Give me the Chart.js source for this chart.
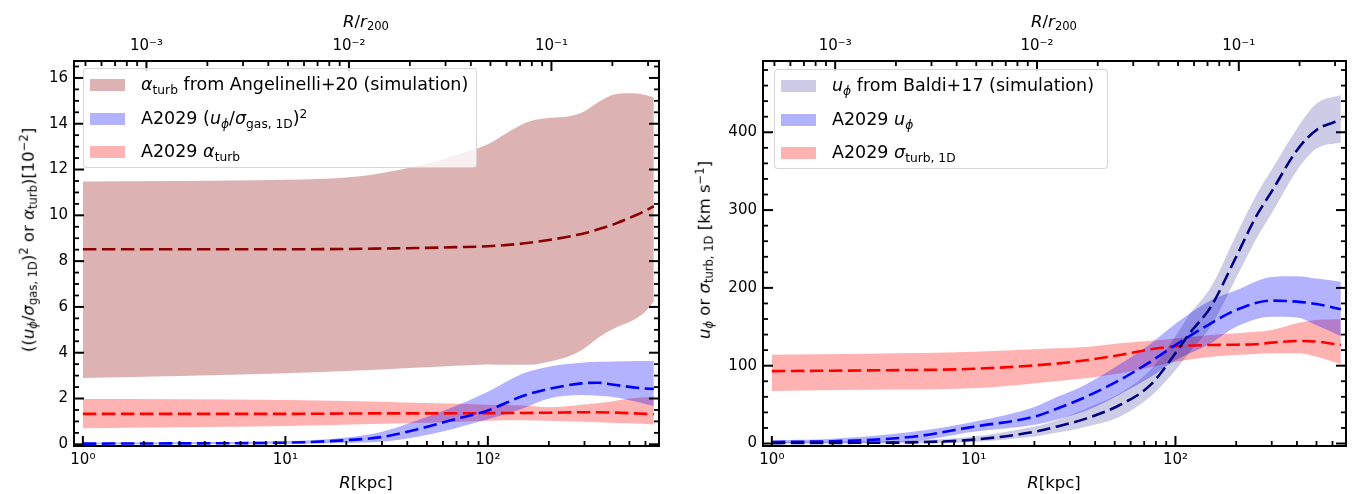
<!DOCTYPE html>
<html><head><meta charset="utf-8">
<script src="https://cdn.jsdelivr.net/npm/chart.js@4/dist/chart.umd.min.js"></script>
<style>
html,body{margin:0;padding:0;background:#fff;}
#wrap{position:relative;width:1355px;height:494px;overflow:hidden;font-family:"DejaVu Sans",sans-serif;color:#000;}
.pane{position:absolute;top:0;height:494px;}
.t{position:absolute;white-space:nowrap;font-size:16.5px;line-height:1;transform:translate(-50%,-50%);}
.rot{transform:translate(-50%,-50%) rotate(-90deg);}
i{font-style:italic;}
sub{font-size:70%;vertical-align:-0.28em;line-height:0;}
sup{font-size:70%;vertical-align:0.55em;line-height:0;}
.legend{position:absolute;background:rgba(255,255,255,0.8);border:1px solid rgba(204,204,204,0.8);border-radius:4px;box-sizing:border-box;}
.patch{position:absolute;left:6px;width:35px;height:12px;}
.lab{position:absolute;left:57px;white-space:nowrap;font-size:17.5px;line-height:1;transform:translateY(-50%);}
</style></head>
<body>
<div id="wrap">
  <div class="pane" style="left:0;width:677px"><canvas id="c1"></canvas></div>
  <div class="pane" style="left:677px;width:678px"><canvas id="c2"></canvas></div>
</div>
<script>
// ---------------- axis settings ----------------
const R200 = 2060;            // kpc, converts R to R/r200 for the top axis
const X_MIN = 0.904, X_MAX = 700;
const X_TICKS = [1, 10, 100];
const X_TICK_LABELS = ['10\u2070', '10\u00b9', '10\u00b2'];
const X_MINOR = [2,3,4,5,6,7,8,9,20,30,40,50,60,70,80,90,200,300,400,500,600,700];
const TOP_TICKS = [0.001, 0.01, 0.1];
const TOP_TICK_LABELS = ['10\u207b\u00b3', '10\u207b\u00b2', '10\u207b\u00b9'];
const TOP_MINOR = [0.0002,0.0003,0.0004,0.0005,0.0006,0.0007,0.0008,0.0009,
                   0.002,0.003,0.004,0.005,0.006,0.007,0.008,0.009,
                   0.02,0.03,0.04,0.05,0.06,0.07,0.08,0.09,
                   0.2,0.3,0.4,0.5];
const YL_TICKS = [0, 2, 4, 6, 8, 10, 12, 14, 16];
const YR_TICKS = [0, 100, 200, 300, 400];

// ---------------- left panel data ----------------
// alpha_turb from Angelinelli+20 (simulation)
const ANG_R   = [1, 3, 10, 20, 30, 50, 70, 100, 130, 160, 200, 260, 300, 360, 430, 530, 600, 660];
const ANG_MID = [8.52, 8.52, 8.52, 8.53, 8.55, 8.58, 8.61, 8.65, 8.72, 8.8, 8.92, 9.1, 9.22, 9.42, 9.65, 9.98, 10.2, 10.4];
const ANG_UP  = [11.48, 11.5, 11.55, 11.65, 11.85, 12.25, 12.65, 13.1, 13.7, 14.1, 14.25, 14.35, 14.55, 15.0, 15.3, 15.33, 15.25, 15.15];
const ANG_LO  = [2.9, 2.98, 3.1, 3.2, 3.27, 3.36, 3.43, 3.49, 3.47, 3.47, 3.6, 3.9, 4.2, 4.72, 5.1, 5.45, 5.8, 6.25];
// A2029 (u_phi / sigma_gas,1D)^2
const PHI2_R   = [1, 3, 10, 20, 30, 45, 65, 100, 150, 200, 290, 350, 420, 570, 660];
const PHI2_MID = [0.03, 0.04, 0.07, 0.18, 0.32, 0.66, 1.04, 1.48, 2.12, 2.42, 2.66, 2.69, 2.6, 2.45, 2.42];
const PHI2_UP  = [0.07, 0.09, 0.14, 0.3, 0.55, 1.05, 1.57, 2.3, 3.1, 3.39, 3.56, 3.6, 3.62, 3.64, 3.64];
const PHI2_LO  = [0.0, 0.0, 0.02, 0.06, 0.11, 0.33, 0.64, 1.09, 1.57, 2.0, 2.15, 2.12, 2.06, 1.82, 1.67];
// A2029 alpha_turb
const ALPHA_R   = [1, 3, 10, 30, 50, 100, 150, 200, 300, 400, 500, 660];
const ALPHA_MID = [1.33, 1.33, 1.33, 1.35, 1.35, 1.36, 1.37, 1.38, 1.4, 1.39, 1.36, 1.31];
const ALPHA_UP  = [1.98, 1.97, 1.94, 1.86, 1.8, 1.73, 1.7, 1.62, 1.74, 1.86, 2.0, 2.08];
const ALPHA_LO  = [0.7, 0.74, 0.8, 0.9, 0.94, 1.03, 1.05, 1.03, 0.99, 0.94, 0.92, 0.87];

// ---------------- right panel data ----------------
// u_phi from Baldi+17 (simulation)
const BALDI_R   = [1, 3, 5, 10, 20, 26, 36, 53, 75, 100, 117, 150, 200, 250, 300, 400, 500, 660];
const BALDI_MID = [0.5, 1, 1.5, 5, 15, 22, 32, 49.5, 75, 116, 141, 176, 240, 291, 324, 377, 403, 416];
const BALDI_UP  = [2, 3, 4, 9, 22, 30, 45, 64.5, 94.5, 138, 165, 201, 268, 318, 352, 405, 437, 448];
const BALDI_LO  = [0, 0, 0, 2, 9, 14, 21.6, 34.5, 60, 94, 117, 151, 213, 262, 296, 351, 379, 387];
// A2029 u_phi
const UPHI_R   = [1, 2, 5, 10, 20, 26, 36, 53, 75, 100, 150, 200, 300, 400, 500, 660];
const UPHI_MID = [2, 3, 8.7, 21.6, 34.5, 45, 60, 81.6, 105, 126.6, 154.5, 171.6, 183.6, 182.3, 179.3, 172.5];
const UPHI_UP  = [4, 6, 15, 28, 47, 60, 76, 102, 128, 154, 184, 197, 214, 215, 212, 208];
const UPHI_LO  = [0, 0.5, 3, 15, 24, 31, 42, 63, 85, 107, 129, 150, 163, 162, 152, 138];
// A2029 sigma_turb,1D
const SIG_R   = [1, 3, 10, 24, 36, 53, 75, 100, 150, 200, 250, 300, 400, 500, 660];
const SIG_MID = [93, 94, 96, 102, 107, 113.7, 121, 125, 126.6, 127, 127.5, 129.6, 131.7, 131, 126.6];
const SIG_UP  = [114, 115.5, 118, 122, 124, 128.8, 132, 135, 139.5, 141.6, 143.5, 146, 154.5, 158.7, 159.6];
const SIG_LO  = [67.5, 69, 71, 79.5, 84, 90, 98, 105, 111.6, 113.8, 115, 116, 116, 111.6, 102];

// ---------------- colours ----------------
const C_ANG_FILL = 'rgba(139,0,0,0.3)',  C_ANG_LINE = '#8b0000';
const C_BLUE_FILL = 'rgba(0,0,255,0.3)', C_BLUE_LINE = '#0000ff';
const C_RED_FILL = 'rgba(255,0,0,0.3)',  C_RED_LINE = '#ff0000';
const C_NAVY_FILL = 'rgba(0,0,128,0.2)', C_NAVY_LINE = '#000080';

// ---------------- helpers ----------------
const AXIS_FONT = {family: 'DejaVu Sans', size: 15};
function pts(xs, ys) { return xs.map((x, i) => ({x: x, y: ys[i]})); }
function band(label, xs, up, lo, fillColor) {
  return [
    {label: label, data: pts(xs, up), borderColor: 'rgba(0,0,0,0)', borderWidth: 1,
     backgroundColor: fillColor, fill: '+1', pointRadius: 0,
     cubicInterpolationMode: 'monotone', order: 5},
    {label: label + ' lower', data: pts(xs, lo), borderColor: 'rgba(0,0,0,0)', borderWidth: 1,
     backgroundColor: 'rgba(0,0,0,0)', fill: false, pointRadius: 0,
     cubicInterpolationMode: 'monotone', order: 5}
  ];
}
function dashed(label, xs, ys, color) {
  return {label: label, data: pts(xs, ys), borderColor: color, borderWidth: 2.6,
          borderDash: [13.5, 5.5], fill: false, pointRadius: 0,
          cubicInterpolationMode: 'monotone', order: 1};
}

const axisDecor = {
  id: 'axisDecor',
  afterDatasetsDraw(chart, args, o) {
    const {ctx, chartArea: a, scales} = chart;
    const MAJ = 10, MIN = 5;
    ctx.save();
    ctx.strokeStyle = '#000';
    ctx.setLineDash([]);
    const seg = (x1, y1, x2, y2, w) => { ctx.lineWidth = w; ctx.beginPath(); ctx.moveTo(x1, y1); ctx.lineTo(x2, y2); ctx.stroke(); };
    const inX = p => p >= a.left - 0.5 && p <= a.right + 0.5;
    const inY = p => p >= a.top - 0.5 && p <= a.bottom + 0.5;
    // bottom axis
    scales.x.ticks.forEach(t => { const p = scales.x.getPixelForValue(t.value); if (inX(p)) seg(p, a.bottom, p, a.bottom - MAJ, 2); });
    o.xMinor.forEach(v => { const p = scales.x.getPixelForValue(v); if (inX(p)) seg(p, a.bottom, p, a.bottom - MIN, 1.8); });
    // top axis
    scales.x2.ticks.forEach(t => { const p = scales.x2.getPixelForValue(t.value); if (inX(p)) seg(p, a.top, p, a.top + MAJ, 2); });
    o.topMinor.forEach(v => { const p = scales.x2.getPixelForValue(v); if (inX(p)) seg(p, a.top, p, a.top + MIN, 1.8); });
    // left & right
    const y = scales.y;
    y.ticks.forEach(t => { const p = y.getPixelForValue(t.value); if (inY(p)) { seg(a.left, p, a.left + MAJ, p, 2); seg(a.right, p, a.right - MAJ, p, 2); } });
    const st = o.yMinorStep;
    for (let k = Math.ceil(y.min / st); k * st <= y.max; k++) {
      const v = k * st;
      if (Math.abs(v / o.yMajorStep - Math.round(v / o.yMajorStep)) < 1e-6) continue;
      const p = y.getPixelForValue(v);
      if (inY(p)) { seg(a.left, p, a.left + MIN, p, 1.8); seg(a.right, p, a.right - MIN, p, 1.8); }
    }
    ctx.lineWidth = 2;
    ctx.strokeRect(a.left, a.top, a.right - a.left, a.bottom - a.top);
    ctx.restore();
  }
};

function makeChart(id, datasets, yCfg, geom, decor) {
  return new Chart(document.getElementById(id), {
    type: 'line',
    data: {datasets: datasets},
    plugins: [axisDecor],
    options: {
      responsive: true, maintainAspectRatio: false, animation: false, events: [],
      layout: {padding: {left: 0, right: geom.right, top: 0, bottom: 0}},
      plugins: {legend: {display: false}, tooltip: {enabled: false}, axisDecor: decor},
      scales: {
        x: {type: 'logarithmic', position: 'bottom', min: X_MIN, max: X_MAX,
            afterBuildTicks: s => { s.ticks = X_TICKS.map(v => ({value: v})); },
            afterFit: s => { s.height = geom.bottom; },
            grid: {display: false, drawTicks: false}, border: {display: false},
            ticks: {autoSkip: false, maxRotation: 0, padding: 5, font: AXIS_FONT, color: '#000',
                    callback: v => { const i = X_TICKS.indexOf(v); return i < 0 ? '' : X_TICK_LABELS[i]; }}},
        x2: {type: 'logarithmic', position: 'top', min: X_MIN / R200, max: X_MAX / R200,
            afterBuildTicks: s => { s.ticks = TOP_TICKS.map(v => ({value: v})); },
            afterFit: s => { s.height = geom.top; },
            grid: {display: false, drawTicks: false}, border: {display: false},
            ticks: {autoSkip: false, maxRotation: 0, padding: 6, font: AXIS_FONT, color: '#000',
                    callback: v => { const i = TOP_TICKS.indexOf(v); return i < 0 ? '' : TOP_TICK_LABELS[i]; }}},
        y: {type: 'linear', position: 'left', min: yCfg.min, max: yCfg.max,
            afterBuildTicks: s => { s.ticks = yCfg.ticks.map(v => ({value: v})); },
            afterFit: s => { s.width = geom.left; },
            grid: {display: false, drawTicks: false}, border: {display: false},
            ticks: {padding: 6, font: AXIS_FONT, color: '#000', callback: v => String(v)}}
      }
    }
  });
}

makeChart('c1', [
  dashed('Angelinelli+20 median', ANG_R, ANG_MID, C_ANG_LINE),
  dashed('A2029 (u_phi/sigma_gas,1D)^2 median', PHI2_R, PHI2_MID, C_BLUE_LINE),
  dashed('A2029 alpha_turb median', ALPHA_R, ALPHA_MID, C_RED_LINE),
  ...band('alpha_turb from Angelinelli+20 (simulation)', ANG_R, ANG_UP, ANG_LO, C_ANG_FILL),
  ...band('A2029 (u_phi/sigma_gas,1D)^2', PHI2_R, PHI2_UP, PHI2_LO, C_BLUE_FILL),
  ...band('A2029 alpha_turb', ALPHA_R, ALPHA_UP, ALPHA_LO, C_RED_FILL)
], {min: -0.074, max: 16.74, ticks: YL_TICKS},
   {left: 74, right: 18, top: 61, bottom: 48},
   {xMinor: X_MINOR, topMinor: TOP_MINOR, yMinorStep: 0.5, yMajorStep: 2});

makeChart('c2', [
  dashed('Baldi+17 median', BALDI_R, BALDI_MID, C_NAVY_LINE),
  dashed('A2029 u_phi median', UPHI_R, UPHI_MID, C_BLUE_LINE),
  dashed('A2029 sigma_turb,1D median', SIG_R, SIG_MID, C_RED_LINE),
  ...band('u_phi from Baldi+17 (simulation)', BALDI_R, BALDI_UP, BALDI_LO, C_NAVY_FILL),
  ...band('A2029 u_phi', UPHI_R, UPHI_UP, UPHI_LO, C_BLUE_FILL),
  ...band('A2029 sigma_turb,1D', SIG_R, SIG_UP, SIG_LO, C_RED_FILL)
], {min: -3.2, max: 491.6, ticks: YR_TICKS},
   {left: 86, right: 9, top: 61, bottom: 48},
   {xMinor: X_MINOR, topMinor: TOP_MINOR, yMinorStep: 20, yMajorStep: 100});

// ---------------- titles and legends (HTML text with sub/superscripts) ----------------
const PHI = '<i>u</i><sub><i>\u03d5</i></sub>';
const TITLES = [
  {html: '<i>R</i>/<i>r</i><sub>200</sub>', x: 366, y: 22},
  {html: '<i>R</i>[kpc]', x: 366, y: 483},
  {html: '((' + PHI + '/<i>\u03c3</i><sub>gas, 1D</sub>)<sup>2</sup> or <i>\u03b1</i><sub>turb</sub>)[10<sup>\u22122</sup>]', x: 29, y: 240, rot: true},
  {html: '<i>R</i>/<i>r</i><sub>200</sub>', x: 1054, y: 22},
  {html: '<i>R</i>[kpc]', x: 1054, y: 483},
  {html: PHI + ' or <i>\u03c3</i><sub>turb, 1D</sub> [km s<sup>\u22121</sup>]', x: 705, y: 250, rot: true}
];
const LEGENDS = [
  {x: 83, y: 68, w: 394, h: 100, items: [
    {html: '<i>\u03b1</i><sub>turb</sub> from Angelinelli+20 (simulation)', color: C_ANG_FILL},
    {html: 'A2029 (' + PHI + '/<i>\u03c3</i><sub>gas, 1D</sub>)<sup>2</sup>', color: C_BLUE_FILL},
    {html: 'A2029 <i>\u03b1</i><sub>turb</sub>', color: C_RED_FILL}]},
  {x: 774, y: 69, w: 334, h: 100, items: [
    {html: PHI + ' from Baldi+17 (simulation)', color: C_NAVY_FILL},
    {html: 'A2029 ' + PHI, color: C_BLUE_FILL},
    {html: 'A2029 <i>\u03c3</i><sub>turb, 1D</sub>', color: C_RED_FILL}]}
];
const wrap = document.getElementById('wrap');
TITLES.forEach(t => {
  const d = document.createElement('div');
  d.className = 't' + (t.rot ? ' rot' : '');
  d.style.left = t.x + 'px'; d.style.top = t.y + 'px';
  d.innerHTML = t.html;
  wrap.appendChild(d);
});
LEGENDS.forEach(L => {
  const box = document.createElement('div');
  box.className = 'legend';
  Object.assign(box.style, {left: L.x + 'px', top: L.y + 'px', width: L.w + 'px', height: L.h + 'px'});
  L.items.forEach((it, i) => {
    const cy = 16 + i * 33.5;
    const p = document.createElement('div');
    p.className = 'patch'; p.style.top = (cy - 6) + 'px'; p.style.background = it.color;
    const s = document.createElement('div');
    s.className = 'lab'; s.style.top = cy + 'px'; s.innerHTML = it.html;
    box.appendChild(p); box.appendChild(s);
  });
  wrap.appendChild(box);
});
</script>
</body></html>
